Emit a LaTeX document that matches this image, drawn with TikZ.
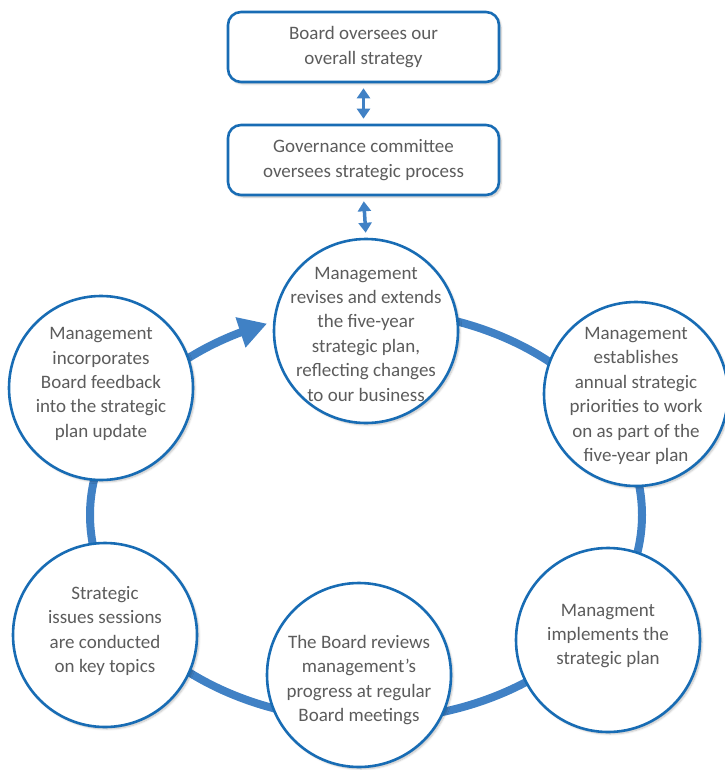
\documentclass[tikz,border=0pt]{standalone}
\usepackage{fontspec}
\setmainfont{Carlito}
\usetikzlibrary{arrows.meta,bending,backgrounds,shadows.blur}
\definecolor{edgeblue}{RGB}{24,108,180}
\definecolor{ringblue}{RGB}{64,129,197}
\definecolor{txtgray}{RGB}{92,92,92}
\tikzset{
  bubble/.style={circle,draw=edgeblue,line width=2.6pt,fill=white,minimum size=184pt,inner sep=0pt,
    blur shadow={shadow xshift=2pt,shadow yshift=-2pt,shadow opacity=25,shadow blur steps=6}},
  govbox/.style={rectangle,rounded corners=13pt,draw=edgeblue,line width=2.6pt,fill=white,
    minimum width=271pt,minimum height=70pt,inner sep=0pt,
    blur shadow={shadow xshift=2pt,shadow yshift=-2pt,shadow opacity=25,shadow blur steps=6}},
  label/.style={align=center,text=txtgray,font=\fontsize{19}{24.4}\selectfont,inner sep=0pt},
  ring/.style={draw=ringblue,line width=8pt},
  dbl/.style={draw=ringblue,line width=3.5pt,
    {Triangle[length=10pt,width=13pt]}-{Triangle[length=10pt,width=13pt]},
    shorten <=5pt,shorten >=5pt}
}
\begin{document}
\begin{tikzpicture}[x=1pt,y=-1pt]
\useasboundingbox (0,0) rectangle (724,770);
% boxes
\node[govbox] (board) at (363.5,47) {};
\node[label] (boardt) at (board) {Board oversees our\\overall strategy};
\node[govbox] (gov) at (363.5,160) {};
\node[label] (govt) at (gov) {Governance committee\\oversees strategic process};
% circles
\node[bubble] (top) at (366,331) {};
\node[bubble] (right) at (636,394) {};
\node[bubble] (bright) at (608,640) {};
\node[bubble] (bottom) at (359,675) {};
\node[bubble] (bleft) at (105,635) {};
\node[bubble] (tleft) at (101,388) {};
\node[label] (topt) at (366,334) {Management\\revises and extends\\the five-year\\strategic plan,\\reflecting changes\\to our business};
\node[label] (rightt) at (636,396) {Management\\establishes\\annual strategic\\priorities to work\\on as part of the\\five-year plan};
\node[label] (brightt) at (608,636) {Managment\\implements the\\strategic plan};
\node[label] (bottomt) at (359,680) {The Board reviews\\management’s\\progress at regular\\Board meetings};
\node[label] (bleftt) at (105,631) {Strategic\\issues sessions\\are conducted\\on key topics};
\node[label] (tleftt) at (101,384) {Management\\incorporates\\Board feedback\\into the strategic\\plan update};
% connectors
\draw[dbl] (board.south) -- (gov.north);
\draw[dbl] (gov.south) -- (top.north);
\coordinate (ringc) at (366,515);
\begin{scope}[on background layer]
\draw[ring,-{Triangle[length=28pt,width=30pt]}] (ringc) ++(-90:276 and 205)
  arc[start angle=-90,end angle=249,x radius=276,y radius=205];
\end{scope}
\end{tikzpicture}
\end{document}
